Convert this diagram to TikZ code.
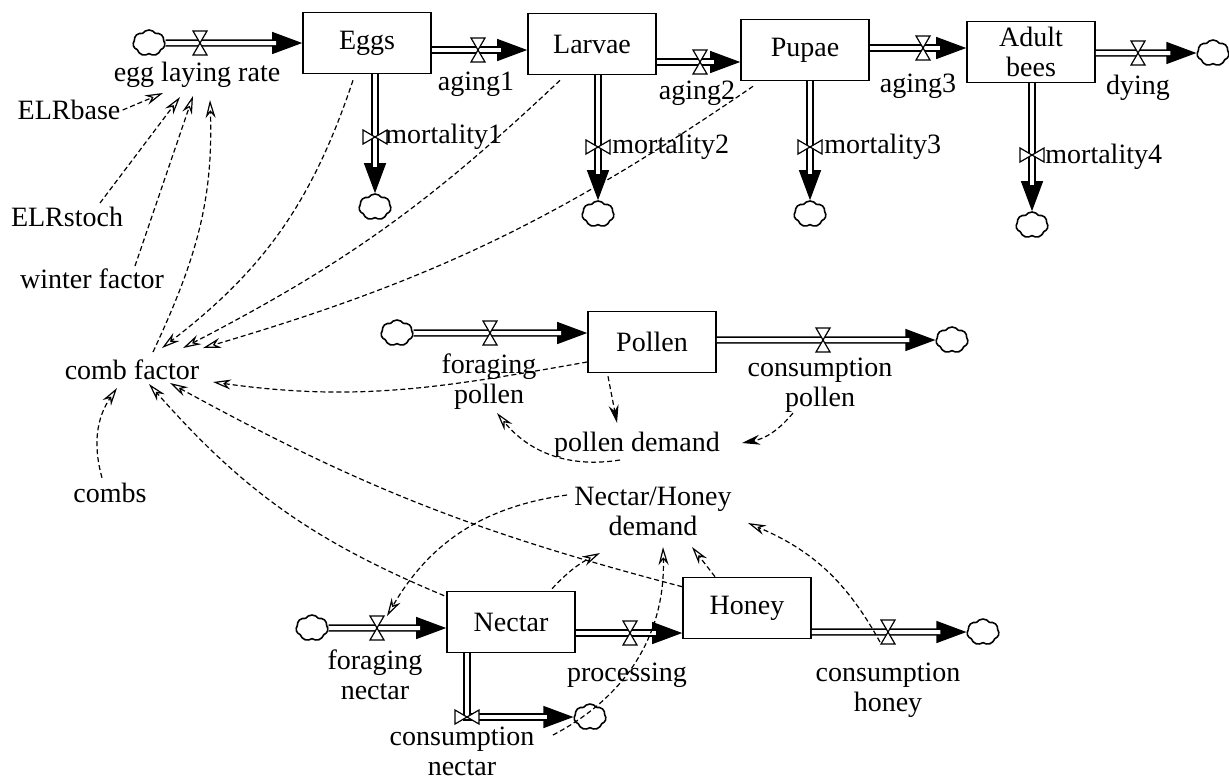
\documentclass[tikz,border=0pt]{standalone}
\usepackage{fontspec}
\setmainfont{Liberation Serif}
\usepackage{tikz}
\usetikzlibrary{arrows.meta, positioning, calc, shapes.symbols}

\begin{document}
\begin{tikzpicture}[
    x=0.5pt, y=-0.5pt,
    font=\fontsize{14}{15}\selectfont,
    stock/.style={
        rectangle,
        draw,
        line width=0.8pt,
        minimum width=64pt,
        minimum height=30.5pt,
        inner sep=2pt,
        align=center
    },
    aux/.style={inner sep=1pt, align=center},
    cloudy/.style={cloud, cloud puffs=7, cloud puff arc=110, aspect=1.25,
        draw, line width=0.8pt, minimum width=16pt, minimum height=13pt, inner sep=0pt},
    pipe/.style={double, double distance=2pt, line width=0.8pt, shorten >=13pt},
    flowhead/.style={line width=0.6pt, -{Triangle[length=15pt, width=11pt]}},
    link/.style={line width=0.6pt, dash pattern=on 2.5pt off 1.5pt,
        -{Stealth[open, length=9pt, width=5pt]}},
    linkdark/.style={link, -{Stealth[length=9pt, width=5pt]}},
    valve/.pic={\draw[fill=white, line width=0.6pt] (-7,-12) -- (7,-12) -- (-7,12) -- (7,12) -- cycle;}
]
    \useasboundingbox (0,0) rectangle (1229,783);

    % Stocks
    \node[stock] (eggs) at (367,43) {Eggs};
    \node[stock] (larvae) at (592,44) {Larvae};
    \node[stock] (pupae) at (805,50) {Pupae};
    \node[stock] (adult) at (1031,52) {Adult\\bees};
    \node[stock] (pollen) at (652,342) {Pollen};
    \node[stock] (nectar) at (511,622) {Nectar};
    \node[stock] (honey) at (747,608) {Honey};

    % Valves
    \coordinate (vELR) at (200,43);
    \coordinate (vAg1) at (478,50);
    \coordinate (vAg2) at (700,62);
    \coordinate (vAg3) at (923,48);
    \coordinate (vDy) at (1138,53);
    \coordinate (vM1) at (375,137);
    \coordinate (vM2) at (598,147);
    \coordinate (vM3) at (810,147);
    \coordinate (vM4) at (1032,155);
    \coordinate (vFP) at (490,333);
    \coordinate (vCP) at (823,340);
    \coordinate (vFN) at (377,628);
    \coordinate (vPr) at (630,633);
    \coordinate (vCH) at (888,632);
    \coordinate (vCN) at (467,717);

    % Clouds
    \node[cloudy] (cEgg) at (149,43) {};
    \node[cloudy] (cM1) at (375,207) {};
    \node[cloudy] (cM2) at (598,214) {};
    \node[cloudy] (cM3) at (810,214) {};
    \node[cloudy] (cM4) at (1032,225) {};
    \node[cloudy] (cDy) at (1213,53) {};
    \node[cloudy] (cPI) at (397,333) {};
    \node[cloudy] (cPO) at (952,340) {};
    \node[cloudy] (cNI) at (312,628) {};
    \node[cloudy] (cNC) at (590,717) {};
    \node[cloudy] (cHO) at (983,632) {};

    % Flows
    \foreach \from/\to in {cEgg/eggs.west |- vELR, eggs.east |- vAg1/larvae.west |- vAg1,
        larvae.east |- vAg2/pupae.west |- vAg2, pupae.east |- vAg3/adult.west |- vAg3,
        adult.east |- vDy/cDy, eggs.south -| vM1/cM1, larvae.south -| vM2/cM2,
        pupae.south -| vM3/cM3, adult.south -| vM4/cM4, cPI/pollen.west |- vFP,
        pollen.east |- vCP/cPO, cNI/nectar.west |- vFN, nectar.east |- vPr/honey.west |- vPr,
        honey.east |- vCH/cHO} {
        \draw[flowhead] (\from) -- (\to);
        \draw[pipe] (\from) -- (\to);
    }
    \draw[flowhead] (nectar.south -| vCN) |- (cNC);
    \draw[pipe] (nectar.south -| vCN) |- (cNC);

    \foreach \v in {vELR, vAg1, vAg2, vAg3, vDy, vFP, vCP, vFN, vPr, vCH} {
        \pic at (\v) {valve};
    }
    \foreach \v in {vM1, vM2, vM3, vM4, vCN} {
        \pic[rotate=90] at (\v) {valve};
    }

    % Flow names
    \node[aux] (elr) at (197,75) {egg laying rate};
    \node[aux] (aging1) at (476,84) {aging1};
    \node[aux] (aging2) at (697,93) {aging2};
    \node[aux] (aging3) at (918,86) {aging3};
    \node[aux] (dying) at (1138,88) {dying};
    \node[aux, anchor=west] (mort1) at (383,137) {mortality1};
    \node[aux, anchor=west] (mort2) at (610,147) {mortality2};
    \node[aux, anchor=west] (mort3) at (822,147) {mortality3};
    \node[aux, anchor=west] (mort4) at (1043,157) {mortality4};
    \node[aux] (lfp) at (489,382) {foraging\\pollen};
    \node[aux] (lcp) at (820,385) {consumption\\pollen};
    \node[aux] (lfn) at (375,675) {foraging\\nectar};
    \node[aux] (lpr) at (627,675) {processing};
    \node[aux] (lch) at (888,690) {consumption\\honey};
    \node[aux] (lcn) at (462,751) {consumption\\nectar};

    % Auxiliaries
    \node[aux] (elrbase) at (69,110) {ELRbase};
    \node[aux] (elrstoch) at (67,217) {ELRstoch};
    \node[aux] (winter) at (92,279) {winter factor};
    \node[aux] (comb) at (132,370) {comb factor};
    \node[aux] (combs) at (110,493) {combs};
    \node[aux] (pdemand) at (637,445) {pollen demand};
    \node[aux] (nhdemand) at (653,511) {Nectar/Honey\\demand};

    % Links into egg laying rate
    \draw[link] (elrbase.east) -- ($(elr)+(-34,18)$);
    \draw[link] ($(elrstoch)+(33,-14)$) -- ($(elr)+(-17,22)$);
    \draw[link] ($(winter)+(43,-13)$) -- ($(elr)+(-4,21)$);
    \draw[link] ($(comb)+(21,-18)$) to[out=65, in=-88] ($(elr)+(13,25)$);

    % Links into comb factor
    \draw[link] ($(eggs.south)+(-14,6)$) to[bend left=17] ($(comb)+(30,-22)$);
    \draw[link] ($(larvae.south)+(-32,5)$) to[bend left=8] ($(comb)+(51,-22)$);
    \draw[link] ($(pupae.south)+(-52,5)$) to[bend left=9] ($(comb)+(71,-22)$);
    \draw[link] ($(pollen.west)+(0,20)$) to[out=190, in=-8] ($(comb)+(81,12)$);
    \draw[link] ($(nectar.north west)+(-2,5)$) to[bend left=13] ($(comb)+(17,14)$);
    \draw[link] ($(honey.north west)+(0,10)$) to[bend left=7] ($(comb)+(38,13)$);
    \draw[link] ($(combs.north)+(-8,-3)$) to[bend left=25] ($(comb)+(-15,18)$);

    % Pollen links
    \draw[linkdark] ($(pollen.south)+(-44,3)$) -- ($(pdemand)+(-20,-22)$);
    \draw[linkdark] ($(lcp)+(-27,28)$) to[bend left=20] ($(pdemand)+(105,-2)$);
    \draw[link] ($(pdemand)+(-17,15)$) to[bend left=30] ($(lfp)+(8,31)$);

    % Nectar/Honey links
    \draw[link] ($(nhdemand)+(-86,-16)$) to[bend right=26] ($(vFN)+(10,-12)$);
    \draw[link] ($(nectar.north)+(41,-2)$) to[bend left=10] ($(nhdemand)+(-53,42)$);
    \draw[link] ($(lcn)+(91,-16)$) to[bend right=32] ($(nhdemand)+(10,36)$);
    \draw[link] ($(honey.north)+(-32,0)$) -- ($(nhdemand)+(39,36)$);
    \draw[link] ($(vCH)+(-8,10)$) to[bend right=19] ($(nhdemand)+(95,12)$);

\end{tikzpicture}
\end{document}
